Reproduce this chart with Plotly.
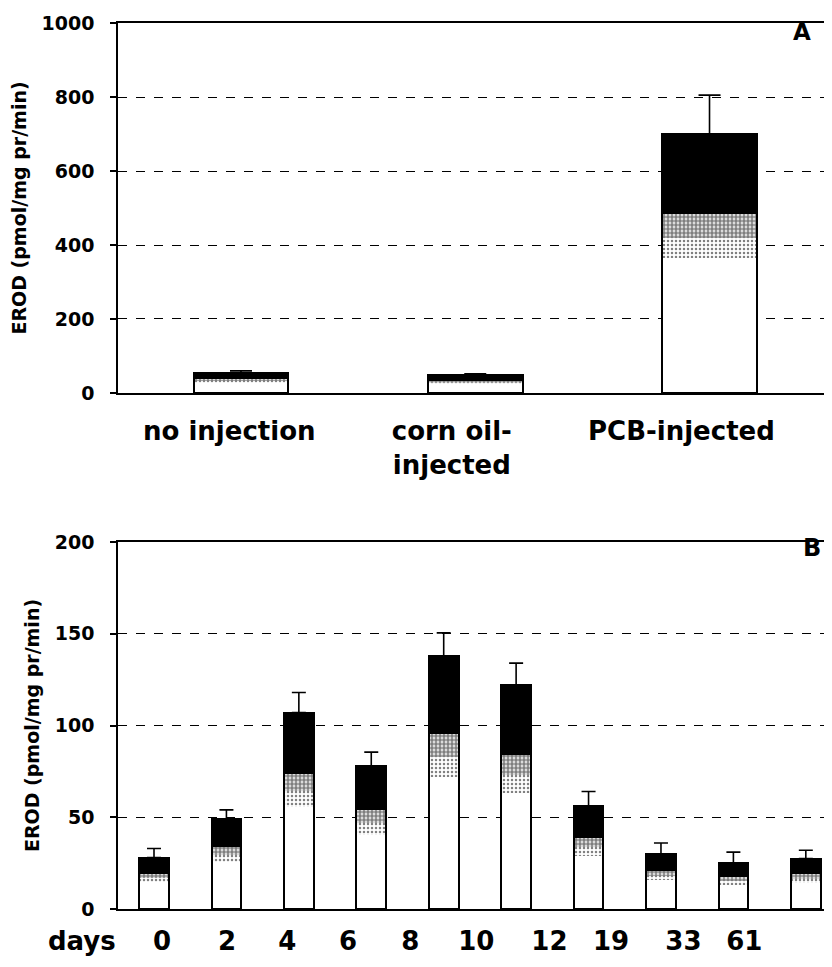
import plotly.graph_objects as go
from plotly.subplots import make_subplots

# ---------------- data ----------------
a_categories = ["no injection", "corn oil-<br>injected", "PCB-injected"]
a_values = [55, 48, 700]
a_errors = [5, 4, 105]

b_categories = ["0", "2", "4", "6", "8", "10", "12", "19", "33", "61"]
b_values = [28, 49, 107, 78, 138, 122, 56, 30, 25, 27.5]
b_errors = [5, 5, 11, 7.5, 12.5, 12, 8, 6, 6, 4.5]

a_yticks = [0, 200, 400, 600, 800, 1000]
b_yticks = [0, 50, 100, 150, 200]
y_title = "EROD (pmol/mg pr/min)"

# --------------- layout / style ---------------
# tick label positions for panel A / B (offsets as printed in the original figure)
a_tick_pos = [-0.05, 0.9, 1.88]
b_tick_pos = [0.11, 1.01, 1.84, 2.68, 3.54, 4.45, 5.46, 6.31, 7.31, 8.15]

# vertical "gradient" bands (fractions of bar height)
bands = [
    (0.00, 0.52, dict(color="white")),
    (0.52, 0.60, dict(color="white", pattern=dict(shape=".", fgcolor="black", bgcolor="white", solidity=0.3, size=4))),
    (0.60, 0.69, dict(color="white", pattern=dict(shape=".", fgcolor="black", bgcolor="white", solidity=0.7, size=4))),
    (0.69, 1.00, dict(color="black")),
]

FONT = "DejaVu Sans"
fig = make_subplots(rows=2, cols=1, vertical_spacing=0.0)


def add_panel(row, xs, values, errors, width, capw):
    for f0, f1, mk in bands:
        fig.add_trace(go.Bar(
            x=xs, y=[v * (f1 - f0) for v in values], base=[v * f0 for v in values],
            width=width, marker=dict(line=dict(width=0), **mk),
            showlegend=False, hoverinfo="skip"), row=row, col=1)
    fig.add_trace(go.Bar(
        x=xs, y=values, width=width,
        marker=dict(color="rgba(0,0,0,0)", line=dict(color="black", width=2)),
        error_y=dict(type="data", symmetric=False, array=errors,
                     arrayminus=[0] * len(errors), color="black",
                     thickness=1.6, width=capw),
        showlegend=False), row=row, col=1)


add_panel(1, list(range(len(a_categories))), a_values, a_errors, 0.405, 11)
add_panel(2, list(range(len(b_categories))), b_values, b_errors, 0.41, 7)

# page body has an 8px margin, margins below compensate for it
fig.update_layout(
    width=832, height=967,
    margin=dict(l=110, r=11, t=15, b=66),
    paper_bgcolor="white", plot_bgcolor="white",
    barmode="overlay", bargap=0,
    font=dict(family=FONT, color="black"),
)

axis_line = dict(showline=True, linecolor="black", linewidth=1.6, mirror=True)
ytick_common = dict(ticks="outside", ticklen=6, tickcolor="black", tickwidth=1.5,
                    ticklabelstandoff=12, automargin=False,
                    tickfont=dict(family=FONT, size=19, weight="bold"),
                    showgrid=True, gridcolor="black", gridwidth=1.3, griddash="dash",
                    zeroline=False,
                    title=dict(text=y_title, font=dict(family=FONT, size=19, weight="bold"), standoff=10))
fig.update_layout(
    yaxis=dict(domain=[0.5824, 1.0], range=[0, 1000], tickvals=a_yticks,
               **ytick_common, **axis_line),
    xaxis=dict(range=[-0.525, 2.51], tickvals=a_tick_pos, ticktext=a_categories,
               ticks="", showgrid=False, zeroline=False, ticklabelstandoff=14,
               automargin=False,
               tickfont=dict(family=FONT, size=26, weight="bold"),
               **axis_line),
    yaxis2=dict(domain=[0.0, 0.4142], range=[0, 200], tickvals=b_yticks,
                **ytick_common,
                showline=True, linecolor="black", linewidth=1.6, mirror=False),
    xaxis2=dict(range=[-0.497, 9.32], tickvals=b_tick_pos, ticktext=b_categories,
                ticks="", showgrid=False, zeroline=False, ticklabelstandoff=8,
                automargin=False,
                tickfont=dict(family=FONT, size=26, weight="bold"),
                **axis_line),
)

fig.add_annotation(text="A", xref="paper", yref="paper", x=0.962, y=0.990,
                   xanchor="center", yanchor="middle", showarrow=False,
                   font=dict(family=FONT, size=23, weight="bold"))
fig.add_annotation(text="B", xref="paper", yref="paper", x=0.976, y=0.4074,
                   xanchor="center", yanchor="middle", showarrow=False,
                   font=dict(family=FONT, size=24, weight="bold"))
fig.add_annotation(text="days", xref="paper", yref="paper", x=-0.0506, y=-0.036,
                   xanchor="center", yanchor="middle", showarrow=False,
                   font=dict(family=FONT, size=26, weight="bold"))

fig.write_html("out.html")
